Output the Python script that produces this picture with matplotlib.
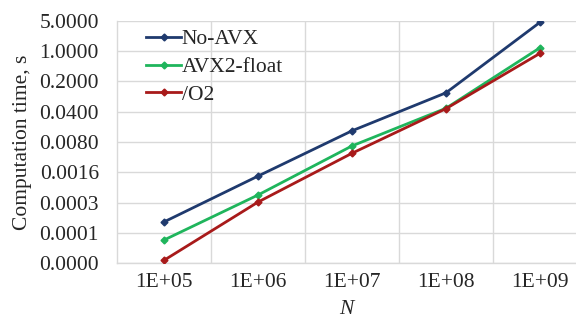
import matplotlib
matplotlib.use("Agg")
import matplotlib.pyplot as plt
from matplotlib.ticker import FixedLocator, NullLocator

categories = ["1E+05", "1E+06", "1E+07", "1E+08", "1E+09"]
no_avx = [1.15e-4, 1.31e-3, 1.45e-2, 0.109, 4.59]
avx2_float = [4.4e-5, 4.8e-4, 6.5e-3, 0.048, 1.19]
o2 = [1.5e-5, 3.3e-4, 4.4e-3, 0.047, 0.885]

ytick_values = [0.0000128, 0.000064, 0.00032, 0.0016, 0.008, 0.04, 0.2, 1.0, 5.0]
ytick_labels = ["0.0000", "0.0001", "0.0003", "0.0016", "0.0080", "0.0400", "0.2000", "1.0000", "5.0000"]

series = [("No-AVX", no_avx, "#1f3a6e"),
          ("AVX2-float", avx2_float, "#1fb55c"),
          ("/O2", o2, "#a81a1a")]

plt.rcParams['font.family'] = ['Liberation Serif', 'DejaVu Serif']

fig = plt.figure(figsize=(5.76, 3.2), dpi=100)
W, H = 576, 320
left, right, top, bottom = 117, 576, 20.7, 263.3
ax = fig.add_axes([left / W, 1 - bottom / H, (right - left) / W, (bottom - top) / H])

x = list(range(len(categories)))
for name, vals, col in series:
    ax.plot(x, vals, color=col, lw=2.0, marker="D", ms=3.5, label=name, zorder=3)

ax.set_yscale("log", base=5)
ax.set_ylim(ytick_values[0], ytick_values[-1])
ax.set_xlim(-0.5, -0.5 + (right - left) / 94.0)

ax.yaxis.set_major_locator(FixedLocator(ytick_values))
ax.set_yticklabels(ytick_labels)
ax.yaxis.set_minor_locator(NullLocator())
ax.set_xticks(x)
ax.set_xticklabels(categories)
ax.set_xticks([i + 0.5 for i in range(len(categories) - 1)], minor=True)

grid_col = "#d9d9d9"
ax.grid(axis="y", which="major", color=grid_col, lw=1.0)
ax.grid(axis="x", which="minor", color=grid_col, lw=1.0)
ax.set_axisbelow(True)
for s in ["top", "right"]:
    ax.spines[s].set_visible(False)
for s in ["left", "bottom"]:
    ax.spines[s].set_color(grid_col)
    ax.spines[s].set_linewidth(1.0)

ax.tick_params(axis="y", which="both", length=0, labelsize=15.5, colors="#262626", pad=13)
ax.tick_params(axis="x", which="both", length=0, labelsize=15.5, colors="#262626", pad=7)
ax.set_ylabel("Computation time, s", fontsize=15.5, color="#262626", labelpad=5)
ax.set_xlabel("N", fontsize=15.5, style="italic", color="#262626", labelpad=6)

leg = ax.legend(loc="upper left", bbox_to_anchor=(137.7 / W, 1 - 20.7 / H),
                bbox_transform=fig.transFigure, frameon=False,
                fontsize=15.5, handlelength=1.6, handletextpad=0.05, labelspacing=0.36,
                borderaxespad=0.0)
for t in leg.get_texts():
    t.set_color("#262626")

fig.savefig("out.png", dpi=100, facecolor="white")
